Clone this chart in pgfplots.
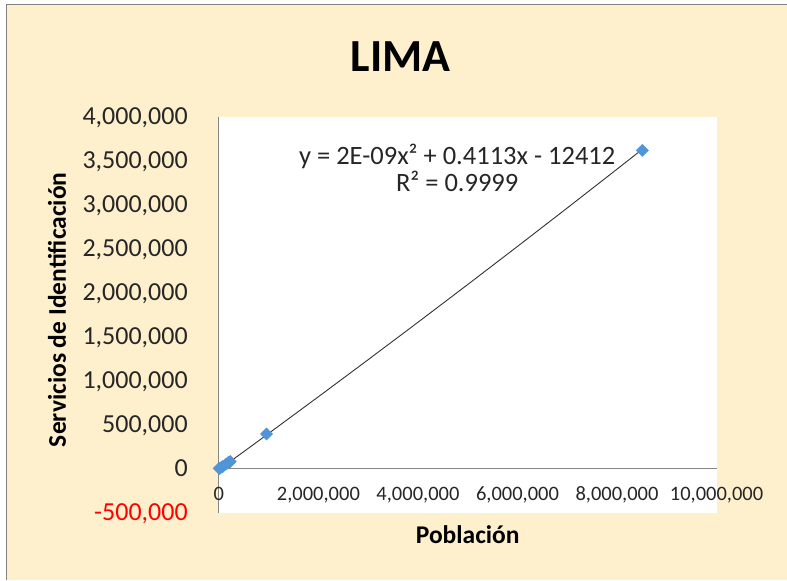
\documentclass[border=0pt]{standalone}
\usepackage{pgfplots}
\pgfplotsset{compat=1.18}
\usepackage{fontspec}
\setmainfont{Carlito}
\definecolor{bg}{RGB}{255,240,205}
\definecolor{mk}{RGB}{79,149,216}
\definecolor{axgray}{RGB}{134,134,134}
\definecolor{trend}{RGB}{50,50,50}
\begin{document}
\begin{tikzpicture}[x=1pt,y=1pt]
\fill[white] (0,0) rectangle (787,580);
\fill[bg] (7,0) rectangle (787,575);
\draw[gray, line width=1pt] (7,0) -- (7,575) -- (787,575);
\fill[white] (219,67) rectangle (717,463);
\node[anchor=base, font=\fontsize{46}{52}\selectfont\bfseries] at (401,508) {LIMA};
\node[anchor=base, font=\fontsize{25.5}{30}\selectfont\bfseries] at (468,36) {Población};
\node[anchor=base, rotate=90, font=\fontsize{25.5}{30}\selectfont\bfseries] at (66,270) {Servicios de Identificación};
\begin{axis}[
  at={(219pt,67pt)}, anchor=south west,
  scale only axis, width=498pt, height=396pt,
  xmin=0, xmax=10000000, ymin=-500000, ymax=4000000,
  axis x line=middle, axis y line=left,
  axis line style={-, draw=axgray, line width=1.2pt},
  major tick length=0pt,
  hide obscured x ticks=false, hide obscured y ticks=false,
  scaled ticks=false,
  clip=false,
  xtick={0,2000000,4000000,6000000,8000000,10000000},
  xticklabels={0,{2,000,000},{4,000,000},{6,000,000},{8,000,000},{10,000,000}},
  ytick={-500000,0,500000,1000000,1500000,2000000,2500000,3000000,3500000,4000000},
  yticklabels={\textcolor{red}{-500,000},0,{500,000},{1,000,000},{1,500,000},{2,000,000},{2,500,000},{3,000,000},{3,500,000},{4,000,000}},
  xticklabel style={anchor=base, inner sep=0pt, yshift=-32pt, font=\fontsize{20.5}{24}\selectfont, text=black!85},
  yticklabel style={anchor=base east, inner sep=0pt, xshift=-31pt, yshift=-8pt, font=\fontsize{26}{30}\selectfont, text=black!85},
]
\addplot[trend, line width=0.9pt, no marks] coordinates {
  (8000,-9122) (500000,193738) (1000000,400888) (2000000,818188) (3000000,1239488)
  (4000000,1664788) (5000000,2094088) (6000000,2527388) (7000000,2964688)
  (8000000,3405988) (8510000,3632591)
};
\addplot[only marks, mark=square*, mark size=4.3pt, mark options={fill=mk, draw=mk, rotate=45}] coordinates {
  (8000,2500) (13000,4000) (20000,6500) (27000,9000) (60000,18000) (80000,25000)
  (140000,50000) (180000,65000) (200000,72000) (230000,82000)
  (958000,395000) (8510000,3620000)
};
\end{axis}
\node[anchor=base, font=\fontsize{26.5}{30}\selectfont, text=black!85] at (457.5,415) {y = 2E-09x² + 0.4113x - 12412};
\node[anchor=base, font=\fontsize{26.5}{30}\selectfont, text=black!85] at (457.5,388) {R² = 0.9999};
\end{tikzpicture}
\end{document}
